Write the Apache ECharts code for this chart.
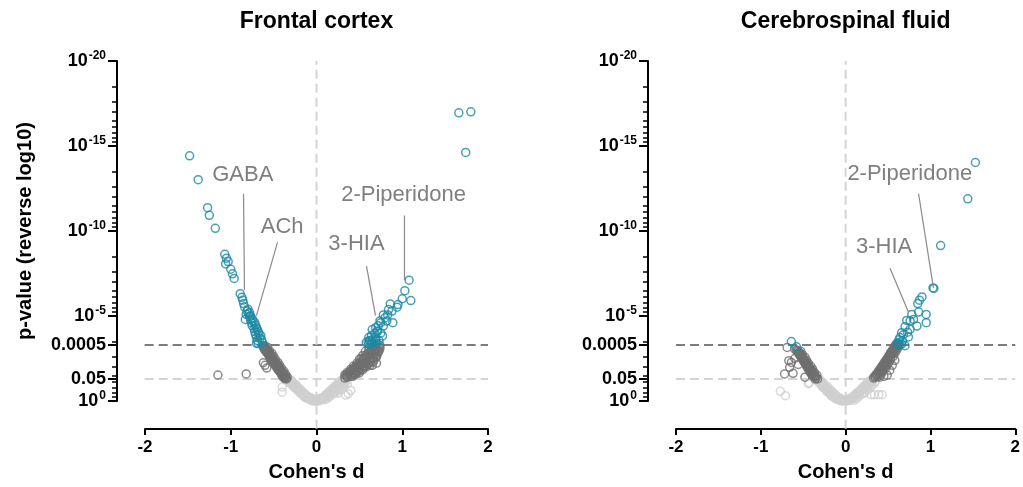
<!DOCTYPE html>
<html>
<head>
<meta charset="utf-8">
<script src="https://cdn.jsdelivr.net/npm/echarts@6/dist/echarts.min.js"></script>
<style>
  html, body { margin: 0; padding: 0; background: #fff; }
  #volcano { width: 1023px; height: 487px; }
</style>
</head>
<body>
<div id="volcano"></div>
<script>
// panels
var panelTitles = ['Frontal cortex', 'Cerebrospinal fluid']

// y is -log10(p); tick labels in p
var yTickValues = [0, 1.301, 3.301, 5, 10, 15, 20]
var yTickLabels = ['10^0', '0.05', '0.0005', '10^-5', '10^-10', '10^-15', '10^-20']
var xTickValues = [-2, -1, 0, 1, 2]
var pCuts = [1.301, 3.301] // p = 0.05, p = 0.0005

// [Cohen's d, -log10 p] -- frontal cortex
var fcTeal = [
  [-1.48,14.42],[-1.38,13.02],[-1.27,11.37],[-1.25,10.92],[-1.18,10.16],[-1.07,8.63],[-1.05,8.40],[-1.03,8.20],
  [-1.06,8.06],[-1.00,7.75],[-0.98,7.48],[-0.96,7.21],[-0.89,6.31],[-0.87,6.10],[-0.86,5.93],[-0.85,5.73],
  [-0.84,5.54],[-0.83,4.80],[-0.81,5.29],[-0.79,5.13],[-0.78,4.96],[-0.77,4.78],[-0.76,4.61],[-0.75,4.43],
  [-0.73,4.26],[-0.72,4.08],[-0.71,3.91],[-0.70,3.73],[-0.69,3.56],[-0.68,3.38],[-0.75,4.84],[-0.72,4.61],
  [-0.70,4.31],[-0.68,4.08],[-0.65,3.85],[-0.64,3.61],[-0.63,3.44],[-0.77,5.01],[-0.74,4.70],[-0.71,4.45],
  [-0.69,4.20],[-0.67,3.95],[-0.66,3.70],[-0.78,5.20],[-0.80,5.40],[-0.82,5.10],[-0.70,3.40],
  [0.58,3.44],[0.62,3.56],[0.65,3.44],[0.69,3.56],[0.61,3.73],[0.64,3.85],[0.68,3.97],[0.71,4.08],
  [0.65,4.20],[0.69,4.31],[0.72,4.43],[0.75,4.61],[1.08,7.11],[1.03,6.49],[1.00,6.01],[1.10,5.91],
  [0.95,5.67],[0.94,5.52],[0.86,5.71],[0.84,5.38],[0.88,5.29],[0.78,5.06],[0.83,5.06],[0.89,4.61],
  [0.74,4.71],[0.78,4.41],[0.71,4.12],[0.77,3.83],[0.69,3.73],[0.63,3.54],[0.73,3.54],[0.61,3.34],
  [0.66,3.62],[0.70,3.40],[0.60,3.50],[0.75,4.00],[0.80,4.90],[0.82,4.70],
  [1.66,16.95],[1.80,17.01],[1.74,14.62]
]
var fcDark = [
  [-0.62,3.15],[-0.60,2.97],[-0.57,2.80],[-0.55,2.62],[-0.53,2.45],[-0.50,2.27],[-0.48,2.10],[-0.46,1.92],
  [-0.43,1.75],[-0.41,1.57],[-0.39,1.40],[-0.35,1.30],[-0.57,3.15],[-0.55,2.97],[-0.52,2.80],[-0.50,2.62],
  [-0.48,2.45],[-0.45,2.27],[-0.43,2.10],[-0.41,1.92],[-0.38,1.75],[-0.36,1.57],[-0.34,1.40],[-0.60,3.25],
  [-0.58,3.05],[-0.56,2.88],[-0.53,2.70],[-0.51,2.52],[-0.49,2.35],[-0.46,2.18],[-0.44,2.00],[-0.42,1.82],
  [-0.39,1.65],[-0.37,1.48],[-1.15,1.53],[-0.82,1.59],[-0.58,1.94],[-0.60,2.10],[-0.62,2.25],
  [-0.625,3.25],[-0.605,3.05],[-0.585,2.88],[-0.555,2.70],[-0.535,2.52],[-0.515,2.35],[-0.485,2.18],
  [-0.465,2.00],[-0.445,1.82],[-0.415,1.65],[-0.395,1.48],[-0.37,1.32],[-0.59,3.00],[-0.565,2.85],
  [-0.545,2.66],[-0.52,2.48],[-0.50,2.31],[-0.475,2.12],[-0.45,1.96],[-0.43,1.78],[-0.405,1.60],[-0.38,1.44],
  [-0.61,3.20],[-0.595,3.12],[-0.58,2.95],[-0.57,2.90],[-0.56,2.78],[-0.545,2.75],[-0.535,2.60],[-0.525,2.58],
  [-0.51,2.42],[-0.505,2.40],[-0.49,2.25],[-0.48,2.22],[-0.47,2.05],[-0.455,2.05],[-0.44,1.88],[-0.435,1.90],
  [-0.42,1.70],[-0.41,1.72],[-0.395,1.55],[-0.385,1.55],[-0.37,1.40],[-0.36,1.42],
  [0.33,1.52],[0.36,1.69],[0.40,1.87],[0.43,2.04],[0.47,2.22],[0.50,2.45],[0.54,2.68],[0.57,2.92],
  [0.61,3.15],[0.64,3.32],[0.40,1.52],[0.44,1.69],[0.49,1.87],[0.54,2.04],[0.58,2.27],[0.63,2.51],
  [0.68,2.74],[0.71,3.03],[0.74,3.27],[0.70,2.22],[0.65,2.10],[0.37,1.55],[0.40,1.75],[0.44,1.95],
  [0.48,2.13],[0.52,2.33],[0.56,2.55],[0.60,2.80],[0.64,3.03],[0.67,3.25],[0.62,2.40],[0.66,2.55],
  [0.70,2.60],[0.72,2.90],[0.60,2.15],[0.56,2.05],[0.52,1.90],[0.47,1.75],[0.44,1.55],[0.50,1.65],
  [0.36,1.40],[0.33,1.35],[0.35,1.45],[0.38,1.62],[0.42,1.82],[0.46,2.00],[0.50,2.20],[0.54,2.40],
  [0.58,2.62],[0.62,2.85],[0.66,3.10],[0.69,3.30],[0.42,1.45],[0.46,1.62],[0.51,1.80],[0.55,1.98],
  [0.59,2.20],[0.63,2.30],[0.67,2.40],[0.68,2.95],[0.73,3.15],[0.71,2.75],[0.65,2.75],[0.55,2.20],
  [0.345,1.58],[0.39,1.70],[0.41,1.60],[0.43,1.88],[0.45,1.80],[0.47,1.95],[0.49,2.05],[0.51,2.10],
  [0.53,2.20],[0.52,2.52],[0.55,2.50],[0.57,2.35],[0.58,2.70],[0.60,2.55],[0.61,2.95],[0.63,2.70],
  [0.64,2.90],[0.65,3.20],[0.67,2.95],[0.69,3.10],[0.70,2.90],[0.72,3.30],[0.73,2.95],[0.74,3.10],
  [0.69,2.55],[0.66,2.30],[0.62,2.10],[0.58,2.00],[0.54,1.85],[0.50,1.75],[0.46,1.60],[0.40,1.45]
]
var fcLight = [
  [-0.33,1.17],[-0.30,1.05],[-0.28,0.93],[-0.26,0.82],[-0.23,0.70],[-0.21,0.58],[-0.19,0.47],[-0.16,0.35],
  [-0.14,0.23],[-0.12,0.17],[-0.09,0.12],[-0.07,0.06],[-0.05,0.00],[-0.02,0.00],[0.00,0.00],
  [-0.31,1.25],[-0.28,1.13],[-0.26,1.00],[-0.23,0.88],[-0.21,0.76],[-0.18,0.64],[-0.16,0.52],[-0.13,0.40],
  [-0.11,0.30],[-0.08,0.22],[-0.05,0.15],[-0.03,0.10],[-0.40,0.82],[-0.40,0.52],
  [-0.32,1.10],[-0.29,0.99],[-0.27,0.88],[-0.245,0.76],[-0.22,0.64],[-0.195,0.52],[-0.17,0.41],[-0.15,0.30],
  [-0.125,0.22],[-0.10,0.16],[-0.075,0.10],[-0.05,0.05],[-0.025,0.04],[-0.29,1.20],[-0.24,0.95],
  [-0.20,0.70],[-0.15,0.45],[-0.10,0.25],[-0.36,1.25],
  [-0.345,1.20],[-0.315,1.15],[-0.30,1.12],[-0.28,1.05],[-0.255,0.90],[-0.235,0.80],[-0.21,0.68],[-0.185,0.56],
  [-0.16,0.44],[-0.14,0.35],[-0.115,0.25],[-0.09,0.18],[-0.065,0.12],[-0.04,0.07],[-0.015,0.02],
  [0.02,0.00],[0.05,0.06],[0.07,0.12],[0.09,0.17],[0.12,0.29],[0.14,0.41],[0.16,0.52],[0.19,0.64],
  [0.21,0.76],[0.23,0.87],[0.26,0.99],[0.28,1.11],[0.30,1.22],[0.03,0.10],[0.06,0.18],[0.09,0.27],
  [0.11,0.38],[0.14,0.50],[0.16,0.62],[0.19,0.74],[0.21,0.86],[0.24,0.98],[0.26,1.10],[0.29,1.22],
  [0.32,1.28],[0.10,0.08],[0.13,0.17],[0.16,0.30],[0.19,0.42],[0.22,0.55],[0.25,0.68],[0.28,0.80],
  [0.31,0.95],[0.33,1.08],[0.40,0.62],[0.37,0.43],[0.34,0.35],
  [0.015,0.05],[0.04,0.03],[0.075,0.15],[0.105,0.22],[0.13,0.35],[0.155,0.46],[0.18,0.58],[0.20,0.70],
  [0.225,0.82],[0.25,0.93],[0.27,1.05],[0.295,1.15],[0.34,1.22],[0.36,1.00],[0.30,0.70],[0.25,0.45],
  [0.035,0.15],[0.06,0.10],[0.085,0.22],[0.115,0.33],[0.14,0.45],[0.17,0.55],[0.195,0.68],[0.22,0.78],
  [0.245,0.90],[0.27,1.00],[0.29,1.10],[0.315,1.20],[0.345,1.15],[0.325,0.98],[0.30,0.85],[0.27,0.70],
  [0.24,0.55],[0.20,0.45],[0.15,0.25]
]

// cerebrospinal fluid
var csfTeal = [
  [1.53,14.03],[1.44,11.89],[1.12,9.14],[1.03,6.65],[1.04,6.62],[0.90,6.12],[0.87,5.93],[0.85,5.73],
  [0.95,5.09],[0.95,4.61],[0.86,5.23],[0.78,5.09],[0.80,4.80],[0.76,4.71],[0.84,4.41],[0.72,4.74],
  [0.70,4.37],[0.76,4.22],[0.66,4.02],[0.74,3.77],[0.64,3.73],[0.62,3.44],[0.67,3.54],[0.70,3.25],
  [0.61,3.34],[0.68,3.90],[0.73,4.05],[0.63,3.60],[0.66,3.35],
  [-0.64,3.50],[-0.58,3.19]
]
var csfDark = [
  [-0.69,3.15],[-0.67,2.37],[-0.64,2.27],[-0.60,2.50],[-0.66,1.98],[-0.72,1.59],[-0.62,1.63],[-0.56,2.15],
  [-0.60,3.05],[-0.48,1.40],
  [-0.56,2.92],[-0.54,2.74],[-0.51,2.57],[-0.49,2.39],[-0.47,2.22],[-0.44,2.04],[-0.42,1.87],[-0.40,1.69],
  [-0.37,1.52],[-0.35,1.34],[-0.33,1.30],[-0.53,2.92],[-0.51,2.74],[-0.48,2.57],[-0.46,2.39],[-0.44,2.22],
  [-0.41,2.04],[-0.39,1.87],[-0.37,1.69],[-0.34,1.52],
  [-0.58,2.98],[-0.555,2.80],[-0.53,2.62],[-0.505,2.45],[-0.485,2.28],[-0.46,2.10],[-0.435,1.94],[-0.41,1.76],
  [-0.39,1.58],[-0.36,1.42],[-0.545,2.85],[-0.52,2.66],[-0.495,2.48],[-0.47,2.30],[-0.45,2.12],[-0.425,1.95],
  [-0.40,1.78],[-0.38,1.60],[-0.355,1.45],
  [-0.57,2.95],[-0.55,2.85],[-0.54,2.70],[-0.52,2.55],[-0.50,2.40],[-0.49,2.30],[-0.47,2.15],[-0.455,2.00],
  [-0.44,1.85],[-0.42,1.70],[-0.40,1.55],[-0.38,1.45],[-0.36,1.30],
  [0.35,1.40],[0.37,1.57],[0.40,1.75],[0.42,1.92],[0.44,2.10],[0.47,2.27],[0.49,2.45],[0.51,2.62],
  [0.53,2.80],[0.56,2.97],[0.58,3.15],[0.60,3.32],[0.40,1.40],[0.42,1.57],[0.44,1.75],[0.47,1.92],
  [0.49,2.10],[0.51,2.27],[0.53,2.45],[0.56,2.62],[0.58,2.80],[0.60,2.97],[0.62,3.15],[0.64,3.30],
  [0.58,2.39],[0.52,1.81],[0.49,1.52],[0.55,2.10],[0.45,1.45],
  [0.33,1.35],[0.36,1.50],[0.385,1.68],[0.41,1.85],[0.43,2.02],[0.455,2.20],[0.48,2.36],[0.50,2.54],
  [0.52,2.72],[0.545,2.90],[0.57,3.06],[0.59,3.25],[0.62,3.35],[0.38,1.45],[0.405,1.62],[0.43,1.80],
  [0.455,1.98],[0.48,2.16],[0.50,2.35],[0.525,2.52],[0.545,2.72],[0.57,2.88],[0.59,3.05],[0.61,3.22],
  [0.34,1.45],[0.365,1.60],[0.39,1.78],[0.415,1.95],[0.44,2.12],[0.46,2.30],[0.485,2.48],[0.51,2.66],
  [0.53,2.85],[0.555,3.02],[0.575,3.20],[0.60,3.38],[0.42,1.70],[0.46,2.05],[0.50,2.40],[0.54,2.75],
  [0.58,3.10],[0.62,3.28]
]
var csfLight = [
  [-0.77,0.57],[-0.71,0.31],[-0.43,1.07],[-0.44,1.02],
  [-0.30,1.11],[-0.28,0.99],[-0.26,0.87],[-0.23,0.76],[-0.21,0.64],[-0.19,0.52],[-0.16,0.41],[-0.14,0.29],
  [-0.12,0.17],[-0.09,0.12],[-0.07,0.06],[-0.05,0.00],[-0.02,0.00],[0.00,0.00],[-0.32,1.22],[-0.30,1.25],
  [-0.27,1.10],[-0.25,0.98],[-0.22,0.86],[-0.20,0.74],[-0.17,0.62],[-0.15,0.50],[-0.12,0.38],[-0.10,0.27],
  [-0.07,0.18],[-0.04,0.10],
  [-0.31,1.05],[-0.285,0.94],[-0.265,0.82],[-0.24,0.70],[-0.215,0.58],[-0.19,0.46],[-0.165,0.34],[-0.14,0.22],
  [-0.115,0.12],[-0.08,0.05],[-0.34,1.20],[-0.27,0.80],[-0.22,0.55],[-0.17,0.30],
  [-0.315,1.15],[-0.29,1.05],[-0.27,0.95],[-0.25,0.82],[-0.225,0.70],[-0.20,0.58],[-0.175,0.46],[-0.15,0.35],
  [-0.125,0.25],[-0.10,0.18],[-0.06,0.10],[-0.03,0.05],
  [0.02,0.00],[0.05,0.06],[0.07,0.12],[0.09,0.17],[0.12,0.29],[0.14,0.41],[0.16,0.52],[0.19,0.64],
  [0.21,0.76],[0.23,0.87],[0.26,0.99],[0.28,1.11],[0.30,1.22],[0.33,1.30],[0.04,0.10],[0.07,0.20],
  [0.10,0.30],[0.12,0.42],[0.15,0.55],[0.18,0.67],[0.20,0.80],[0.23,0.92],[0.25,1.05],[0.28,1.18],
  [0.31,1.30],[0.10,0.05],[0.13,0.15],[0.16,0.28],[0.19,0.40],[0.22,0.53],[0.25,0.65],[0.28,0.78],
  [0.31,0.92],[0.34,1.05],[0.30,0.37],[0.34,0.37],[0.39,0.37],[0.43,0.37],
  [0.015,0.05],[0.045,0.03],[0.08,0.16],[0.11,0.24],[0.135,0.36],[0.16,0.47],[0.185,0.60],[0.21,0.70],
  [0.235,0.83],[0.26,0.94],[0.285,1.06],[0.32,1.18],[0.35,1.15],
  [0.03,0.12],[0.06,0.10],[0.085,0.22],[0.115,0.33],[0.14,0.45],[0.17,0.57],[0.195,0.70],[0.22,0.80],
  [0.245,0.92],[0.27,1.03],[0.295,1.15],[0.32,1.25],[0.30,0.90],[0.26,0.70],[0.22,0.45]
]

// labelled metabolites: text position, then leader line from -> to
var fcNotes = [
  { text: 'GABA', at: [-0.86, 13.3], from: [-0.851, 12.19], to: [-0.840, 6.53] },
  { text: 'ACh', at: [-0.40, 10.26], from: [-0.455, 9.33], to: [-0.70, 5.02] },
  { text: '2-Piperidone', at: [1.015, 12.13], from: [1.026, 10.91], to: [1.026, 7.11] },
  { text: '3-HIA', at: [0.466, 9.21], from: [0.583, 7.93], to: [0.688, 5.02] }
]
var csfNotes = [
  { text: '2-Piperidone', at: [0.756, 13.35], from: [0.860, 12.19], to: [1.035, 6.65] },
  { text: '3-HIA', at: [0.453, 9.09], from: [0.523, 7.81], to: [0.744, 5.19] }
]

var panels = [
  { teal: fcTeal, dark: fcDark, light: fcLight, notes: fcNotes },
  { teal: csfTeal, dark: csfDark, light: csfLight, notes: csfNotes }
]

var FONT = 'Arial, "Liberation Sans", sans-serif'
var TEAL = '#1b88a2'
var DARK = '#6f6f6f'
var LIGHT = '#cfcfcf'

// prism-style minor ticks, bunched toward the lower end of each 5-step block
var minorTicks = []
;[0, 5, 10, 15].forEach(function (a) {
  for (var k = 2; k <= 9; k++) minorTicks.push(a + 5 - 5 * Math.log10(k))
})

function yLabel(v) {
  var i = 0
  yTickValues.forEach(function (t, j) { if (Math.abs(t - v) < Math.abs(yTickValues[i] - v)) i = j })
  var s = yTickLabels[i]
  if (s.indexOf('^') > -1) return '{b|10}{s|' + s.split('^')[1] + '}'
  return '{b|' + s + '}'
}

var grids = [
  { left: 145, top: 61, width: 343, height: 343 },
  { left: 676, top: 61, width: 344, height: 343 }
]

var xAxes = [], yAxes = [], series = []
panels.forEach(function (p, i) {
  xAxes.push({
    gridIndex: i, type: 'value', min: -2, max: 2, interval: 1, offset: 28, position: 'bottom',
    axisLine: { onZero: false, lineStyle: { color: '#000', width: 2 } },
    axisTick: { length: 6, lineStyle: { color: '#000', width: 2 } },
    axisLabel: { color: '#000', fontSize: 17, fontWeight: 'bold', fontFamily: FONT, margin: 10 },
    splitLine: { show: false },
    name: "Cohen's d", nameLocation: 'middle', nameGap: 33,
    nameTextStyle: { color: '#000', fontSize: 20, fontWeight: 'bold', fontFamily: FONT }
  })
  yAxes.push({
    gridIndex: i, type: 'value', min: 0, max: 20, offset: 28, position: 'left',
    axisLine: { onZero: false, lineStyle: { color: '#000', width: 2 } },
    axisTick: { customValues: yTickValues, length: 9, lineStyle: { color: '#000', width: 2 } },
    axisLabel: {
      customValues: yTickValues, formatter: yLabel, margin: 11,
      rich: {
        b: { color: '#000', fontSize: 18, fontWeight: 'bold', fontFamily: FONT, lineHeight: 22 },
        s: { color: '#000', fontSize: 12, fontWeight: 'bold', fontFamily: FONT, lineHeight: 12, verticalAlign: 'top', padding: [0, 0, 0, 1] }
      }
    },
    splitLine: { show: false },
    name: i === 0 ? 'p-value (reverse log10)' : '', nameLocation: 'middle', nameGap: 82,
    nameTextStyle: { color: '#000', fontSize: 20, fontWeight: 'bold', fontFamily: FONT }
  })
  yAxes.push({
    gridIndex: i, type: 'value', min: 0, max: 20, offset: 28, position: 'left',
    axisLine: { show: false, onZero: false },
    axisTick: { customValues: minorTicks, length: 5, lineStyle: { color: '#000', width: 1.5 } },
    axisLabel: { show: false },
    splitLine: { show: false }
  })
  var yi = i * 2
  function refLine(data, color) {
    series.push({
      type: 'line', xAxisIndex: i, yAxisIndex: yi, data: data, clip: false, symbol: 'none', silent: true, z: 1,
      lineStyle: { color: color, width: 2, type: [9, 5] }
    })
  }
  refLine([[-2.33, pCuts[0]], [2, pCuts[0]]], '#d4d4d4')
  refLine([[-2.33, pCuts[1]], [2, pCuts[1]]], '#7c7c7c')
  refLine([[0, -1.63], [0, 20]], '#d4d4d4')
  ;[[p.light, LIGHT], [p.dark, DARK], [p.teal, TEAL]].forEach(function (s) {
    series.push({
      type: 'scatter', xAxisIndex: i, yAxisIndex: yi, data: s[0], symbol: 'circle', symbolSize: 8, z: 3,
      itemStyle: { color: 'rgba(255,255,255,0)', borderColor: s[1], borderWidth: 1.5 }
    })
  })
  p.notes.forEach(function (n) {
    series.push({
      type: 'line', xAxisIndex: i, yAxisIndex: yi, data: [n.from, n.to], clip: false, symbol: 'none', silent: true, z: 4,
      lineStyle: { color: '#8a8a8a', width: 1.2 }
    })
  })
})

var chart = echarts.init(document.getElementById('volcano'))
chart.setOption({
  animation: false,
  backgroundColor: '#fff',
  grid: grids,
  xAxis: xAxes,
  yAxis: yAxes,
  series: series
})

// titles and note texts placed through the axes
var graphics = []
panels.forEach(function (p, i) {
  var c = chart.convertToPixel({ gridIndex: i }, [0, 20])
  graphics.push({
    type: 'text', x: c[0], y: 22,
    style: { text: panelTitles[i], fill: '#000', font: 'bold 23px ' + FONT, textAlign: 'center', textVerticalAlign: 'middle' }
  })
  p.notes.forEach(function (n) {
    var q = chart.convertToPixel({ gridIndex: i }, n.at)
    graphics.push({
      type: 'text', x: q[0], y: q[1], z: 10,
      style: { text: n.text, fill: '#7f7f7f', font: '22px ' + FONT, textAlign: 'center', textVerticalAlign: 'middle' }
    })
  })
})
chart.setOption({ graphic: graphics })
</script>
</body>
</html>
